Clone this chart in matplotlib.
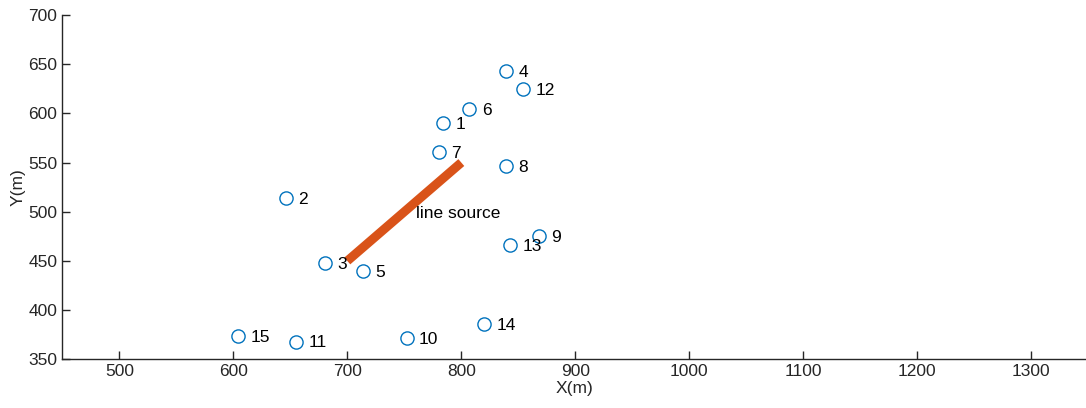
import matplotlib
matplotlib.use("Agg")
from matplotlib import pyplot as plt

plt.rcParams['font.family'] = ['Liberation Sans', 'DejaVu Sans']

# 受体点坐标 (m)
rx = [784, 646, 680, 839, 714, 807, 780, 839, 868, 752, 655, 854, 843, 820, 604]
ry = [590, 514, 448, 643, 440, 604, 561, 546, 475, 372, 368, 625, 466, 386, 374]
ids = [str(i) for i in range(1, 16)]

# 线源端点
src_x = [700, 800]
src_y = [450, 550]

fig = plt.figure(figsize=(10.86, 4.08), dpi=100)
ax = fig.add_axes([0.0574, 0.1194, 0.9426, 0.8438])

ax.plot(src_x, src_y, color="#D95319", linewidth=6.5, solid_capstyle="butt")
ax.plot(rx, ry, linestyle="none", marker="o", markersize=9.5,
        markerfacecolor="none", markeredgecolor="#0072BD", markeredgewidth=1)

for x, y, s in zip(rx, ry, ids):
    ax.annotate(s, (x, y), xytext=(9, -1), textcoords="offset points",
                ha="left", va="center", fontsize=12.5, color="black")

ax.text(760, 498, "line source", ha="left", va="center", fontsize=12.5)

ax.set_xlim(450, 1348)
ax.set_ylim(350, 700)
ax.set_xticks(range(500, 1301, 100))
ax.set_yticks(range(350, 701, 50))

for side in ["top", "right"]:
    ax.spines[side].set_visible(False)
for side in ["left", "bottom"]:
    ax.spines[side].set_color("#262626")
    ax.spines[side].set_linewidth(1)

ax.tick_params(direction="in", length=6, width=1, colors="#262626",
               labelsize=12.5, labelcolor="#262626")

ax.set_xlabel("X(m)", fontsize=12.5, color="#262626", labelpad=1)
ax.set_ylabel("Y(m)", fontsize=12.5, color="#262626", labelpad=2)

plt.savefig("out.png", dpi=100)
